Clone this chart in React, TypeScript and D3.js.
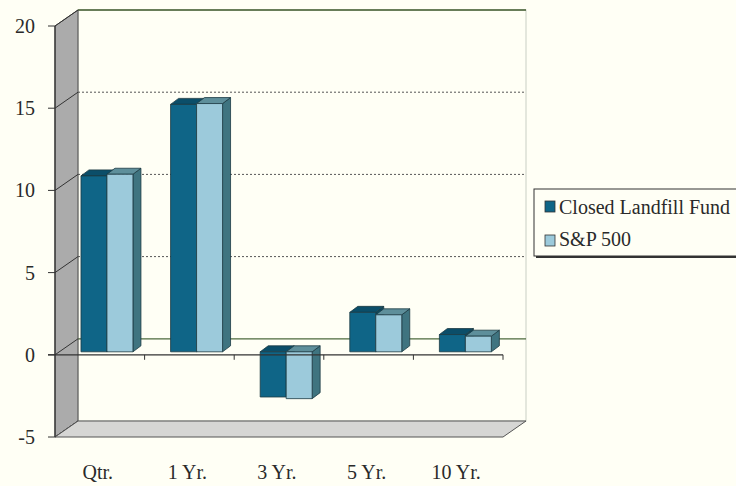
import React from "react";
import * as d3 from "d3";

const categories = ["Qtr.", "1 Yr.", "3 Yr.", "5 Yr.", "10 Yr."];
const seriesNames = ["Closed Landfill Fund", "S&P 500"];
const fundValues = [10.7, 15.05, -2.75, 2.4, 1.05];
const spValues = [10.8, 15.1, -2.85, 2.25, 0.95];
const yTicks = [-5, 0, 5, 10, 15, 20];

const W = 736;
const H = 486;
const FONT = "'Liberation Serif', 'Times New Roman', serif";
const BG = "#fffff5";

const frontColors = ["#0f6587", "#9ccadb"];
const topColors = ["#0b4e69", "#5e8f9b"];
const sideColors = ["#0a4a60", "#3f7480"];

export default function App() {
  const y = d3.scaleLinear().domain([-5, 20]).range([437, 26]);
  const x = d3.scaleBand<string>().domain(categories).range([55, 503]);
  const bw = x.bandwidth();
  const DX = 23;
  const DY = -16;
  const barShiftY = -3;
  const barDX = 8;
  const barDY = -6;
  const groupOffset = bw * 0.29;
  const barW = bw * 0.29;
  const series = [fundValues, spValues];

  const x0 = 55;
  const x1 = 503;
  const yTop = y(20);
  const yBot = y(-5);

  const pts = (a: number[][]) => a.map((p) => p.join(",")).join(" ");

  const bars: JSX.Element[] = [];
  categories.forEach((c, i) => {
    series.forEach((vals, j) => {
      const v = vals[i];
      const bx = (x(c) as number) + groupOffset + j * barW;
      const yt = y(Math.max(v, 0)) + barShiftY;
      const yb = y(Math.min(v, 0)) + barShiftY;
      const front = [
        [bx, yt],
        [bx + barW, yt],
        [bx + barW, yb],
        [bx, yb],
      ];
      const top = [
        [bx, yt],
        [bx + barDX, yt + barDY],
        [bx + barW + barDX, yt + barDY],
        [bx + barW, yt],
      ];
      const side = [
        [bx + barW, yt],
        [bx + barW + barDX, yt + barDY],
        [bx + barW + barDX, yb + barDY],
        [bx + barW, yb],
      ];
      bars.push(
        <g key={`${i}-${j}`} stroke="#1c3a42" strokeWidth={0.8} strokeLinejoin="round">
          <polygon points={pts(side)} fill={sideColors[j]} />
          <polygon points={pts(top)} fill={topColors[j]} />
          <polygon points={pts(front)} fill={frontColors[j]} />
        </g>
      );
    });
  });

  return (
    <svg
      width={W}
      height={H}
      style={{ position: "absolute", left: 0, top: 0, background: BG }}
      fontFamily={FONT}
    >
      <rect x={0} y={0} width={W} height={H} fill={BG} />
      {/* back wall */}
      <rect x={x0 + DX} y={yTop + DY} width={x1 - x0} height={yBot - yTop} fill={BG} stroke="#c9cfc4" strokeWidth={1} />
      <line x1={x0 + DX} x2={x1 + DX} y1={yTop + DY} y2={yTop + DY} stroke="#3f5a2e" strokeWidth={1.5} />
      {/* gridlines on back wall */}
      {yTicks
        .filter((t) => t > 0 && t < 20)
        .map((t) => (
          <line key={t} x1={x0 + DX} x2={x1 + DX} y1={y(t) + DY} y2={y(t) + DY} stroke="#555" strokeWidth={1} strokeDasharray="2,2" />
        ))}
      <line x1={x0 + DX} x2={x1 + DX} y1={y(0) + DY} y2={y(0) + DY} stroke="#4d6a3d" strokeWidth={1.2} />
      {/* left wall */}
      <polygon
        points={pts([
          [x0, yTop],
          [x0 + DX, yTop + DY],
          [x0 + DX, yBot + DY],
          [x0, yBot],
        ])}
        fill="#ababab"
        stroke="#4a4a4a"
        strokeWidth={1}
      />
      {yTicks.map((t) => (
        <line key={t} x1={x0} y1={y(t)} x2={x0 + DX} y2={y(t) + DY} stroke="#333" strokeWidth={1} />
      ))}
      {/* floor */}
      <polygon
        points={pts([
          [x0, yBot],
          [x0 + DX, yBot + DY],
          [x1 + DX, yBot + DY],
          [x1, yBot],
        ])}
        fill="#d6d6d4"
        stroke="#555"
        strokeWidth={1}
      />
      {bars}
      {/* category axis at zero */}
      <line x1={x0 - 7} x2={x1} y1={y(0)} y2={y(0)} stroke="#333" strokeWidth={1.2} />
      {categories.map((c) => (
        <line key={c} x1={(x(c) as number) + bw} x2={(x(c) as number) + bw} y1={y(0)} y2={y(0) + 5} stroke="#333" strokeWidth={1} />
      ))}
      {/* value axis */}
      <line x1={x0} x2={x0} y1={yTop} y2={yBot} stroke="#333" strokeWidth={1.2} />
      {yTicks.map((t) => (
        <g key={t}>
          <line x1={x0 - 7} x2={x0} y1={y(t)} y2={y(t)} stroke="#333" strokeWidth={1} />
          <text x={35} y={y(t) + 7} textAnchor="end" fontSize={20} fill="#2a2a2a">
            {t}
          </text>
        </g>
      ))}
      {categories.map((c) => (
        <text key={c} x={(x(c) as number) + bw / 2 - 2} y={479} textAnchor="middle" fontSize={20} fill="#2a2a2a">
          {c}
        </text>
      ))}
      {/* legend */}
      <rect x={536} y={191} width={220} height={67} fill="#333" />
      <rect x={534} y={189} width={220} height={67} fill={BG} stroke="#333" strokeWidth={1} />
      {seriesNames.map((s, j) => (
        <g key={s}>
          <rect x={545} y={201 + j * 34} width={10} height={11} fill={frontColors[j]} stroke="#333" strokeWidth={0.8} />
          <text x={559} y={214 + j * 32} fontSize={20} fill="#2a2a2a">
            {s}
          </text>
        </g>
      ))}
    </svg>
  );
}
